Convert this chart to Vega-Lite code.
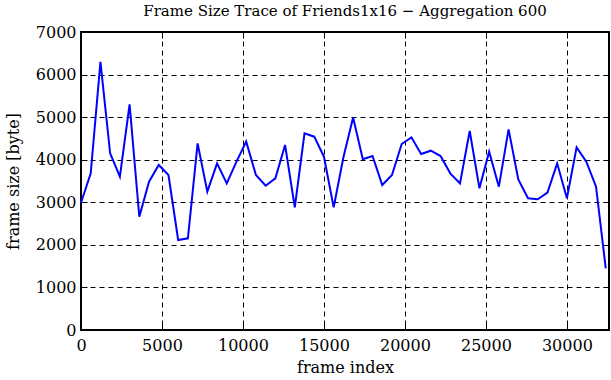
{
  "$schema": "https://vega.github.io/schema/vega-lite/v6.json",
  "width": 528,
  "height": 298,
  "autosize": {"type": "none"},
  "padding": {"left": 81, "top": 32, "right": 2, "bottom": 50},
  "background": "white",
  "title": {"text": "Frame Size Trace of Friends1x16 \u2212 Aggregation 600", "font": "DejaVu Serif", "fontSize": 15, "fontWeight": "normal", "color": "black", "offset": 5, "anchor": "middle"},
  "config": {
    "view": {"stroke": "black", "strokeWidth": 2},
    "axis": {"labelFont": "DejaVu Serif", "titleFont": "DejaVu Serif", "labelFontSize": 16, "titleFontSize": 16, "titleFontWeight": "normal", "labelColor": "black", "titleColor": "black", "domain": false, "tickColor": "black", "tickWidth": 1, "tickSize": -6, "gridColor": "black", "gridDash": [5, 4], "gridWidth": 1, "gridOpacity": 1}
  },
  "data": {"values": [
    {"frame": 0, "size": 2990},
    {"frame": 600, "size": 3680},
    {"frame": 1200, "size": 6300},
    {"frame": 1800, "size": 4150},
    {"frame": 2400, "size": 3600},
    {"frame": 3000, "size": 5300},
    {"frame": 3600, "size": 2660},
    {"frame": 4200, "size": 3485},
    {"frame": 4800, "size": 3876},
    {"frame": 5400, "size": 3641},
    {"frame": 6000, "size": 2114},
    {"frame": 6600, "size": 2153},
    {"frame": 7200, "size": 4385},
    {"frame": 7800, "size": 3250},
    {"frame": 8400, "size": 3915},
    {"frame": 9000, "size": 3445},
    {"frame": 9600, "size": 3955},
    {"frame": 10200, "size": 4425},
    {"frame": 10800, "size": 3641},
    {"frame": 11400, "size": 3390},
    {"frame": 12000, "size": 3563},
    {"frame": 12600, "size": 4346},
    {"frame": 13200, "size": 2880},
    {"frame": 13800, "size": 4620},
    {"frame": 14400, "size": 4541},
    {"frame": 15000, "size": 4071},
    {"frame": 15600, "size": 2880},
    {"frame": 16200, "size": 4050},
    {"frame": 16800, "size": 4990},
    {"frame": 17400, "size": 4010},
    {"frame": 18000, "size": 4087},
    {"frame": 18600, "size": 3406},
    {"frame": 19200, "size": 3641},
    {"frame": 19800, "size": 4369},
    {"frame": 20400, "size": 4526},
    {"frame": 21000, "size": 4134},
    {"frame": 21600, "size": 4212},
    {"frame": 22200, "size": 4087},
    {"frame": 22800, "size": 3680},
    {"frame": 23400, "size": 3445},
    {"frame": 24000, "size": 4675},
    {"frame": 24600, "size": 3328},
    {"frame": 25200, "size": 4189},
    {"frame": 25800, "size": 3367},
    {"frame": 26400, "size": 4714},
    {"frame": 27000, "size": 3539},
    {"frame": 27600, "size": 3093},
    {"frame": 28200, "size": 3070},
    {"frame": 28800, "size": 3226},
    {"frame": 29400, "size": 3915},
    {"frame": 30000, "size": 3093},
    {"frame": 30600, "size": 4291},
    {"frame": 31200, "size": 3955},
    {"frame": 31800, "size": 3367},
    {"frame": 32400, "size": 1445}
  ]},
  "layer": [
    {
      "mark": {"type": "line", "color": "#0000ff", "strokeWidth": 2},
      "encoding": {
        "x": {"field": "frame", "type": "quantitative", "scale": {"domain": [0, 32600], "nice": false, "zero": false}, "axis": {"title": "frame index", "values": [0, 5000, 10000, 15000, 20000, 25000, 30000], "format": "d", "labelPadding": 13, "titlePadding": 6, "grid": true, "labelFlush": false}},
        "y": {"field": "size", "type": "quantitative", "scale": {"domain": [0, 7000], "nice": false}, "axis": {"title": "frame size [byte]", "values": [0, 1000, 2000, 3000, 4000, 5000, 6000, 7000], "format": "d", "labelPadding": 11, "titlePadding": 14, "grid": true}}
      }
    },
    {
      "mark": {"type": "line", "opacity": 0},
      "encoding": {
        "x": {"field": "frame", "type": "quantitative", "scale": {"domain": [0, 32600], "nice": false, "zero": false}, "axis": {"orient": "top", "title": null, "labels": false, "values": [0, 5000, 10000, 15000, 20000, 25000, 30000], "grid": false}},
        "y": {"field": "size", "type": "quantitative", "scale": {"domain": [0, 7000], "nice": false}, "axis": {"orient": "right", "title": null, "labels": false, "values": [0, 1000, 2000, 3000, 4000, 5000, 6000, 7000], "grid": false}}
      }
    }
  ],
  "resolve": {"axis": {"x": "independent", "y": "independent"}}
}
